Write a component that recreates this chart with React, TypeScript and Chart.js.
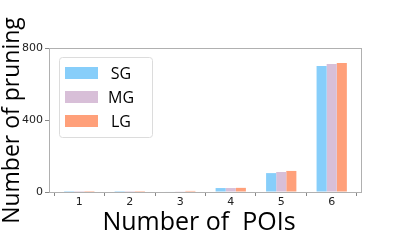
import React, { useEffect, useRef } from "react";
import { Chart, registerables } from "chart.js";

Chart.register(...registerables);

const categories = [1, 2, 3, 4, 5, 6];
const seriesNames = ["SG", "MG", "LG"];
const sgValues = [0.3, 0.3, 3, 22, 105, 700];
const mgValues = [0.3, 0.3, 4, 22, 111, 711];
const lgValues = [0.3, 0.3, 6, 23, 117, 717];
const yTicks = [0, 400, 800];
const colors = ["#87CEFA", "#D8BFD8", "#FFA07A"];
const xTitle = "Number of  POIs";
const yTitle = "Number of pruning";

const FONT = "'Open Sans', 'Noto Sans', sans-serif";
const TICKFONT = "'DejaVu Sans', sans-serif";

const framePlugin = {
  id: "frame",
  afterDraw(chart: any) {
    const { ctx, chartArea } = chart;
    const { left, right, top, bottom } = chartArea;
    ctx.save();
    ctx.strokeStyle = "#b0b0b0";
    ctx.lineWidth = 1;
    ctx.strokeRect(Math.round(left) + 0.5, Math.round(top) + 0.5, Math.round(right - left), Math.round(bottom - top));

    // legend
    const lx = 59, ly = 57, lw = 93, lh = 80;
    ctx.fillStyle = "rgba(255,255,255,0.85)";
    ctx.strokeStyle = "#dcdcdc";
    ctx.beginPath();
    (ctx as any).roundRect(lx + 0.5, ly + 0.5, lw, lh, 3);
    ctx.fill();
    ctx.stroke();
    chart.data.datasets.forEach((ds: any, i: number) => {
      const cy = 73 + i * 24;
      ctx.fillStyle = ds.backgroundColor;
      ctx.fillRect(65, cy - 6, 33, 12);
      ctx.fillStyle = "#000";
      ctx.font = `16px ${FONT}`;
      ctx.textAlign = "center";
      ctx.textBaseline = "middle";
      ctx.fillText(ds.label, 121, cy + 1);
    });

    // axis titles
    ctx.fillStyle = "#000";
    ctx.textAlign = "center";
    ctx.textBaseline = "alphabetic";
    ctx.font = `25px ${FONT}`;
    ctx.fillText(xTitle, 199, 230);
    ctx.save();
    ctx.font = `23px ${FONT}`;
    ctx.translate(19, 120.5);
    ctx.rotate(-Math.PI / 2);
    ctx.fillText(yTitle, 0, 0);
    ctx.restore();
    ctx.restore();
  },
};

export default function App() {
  const ref = useRef<HTMLCanvasElement>(null);
  useEffect(() => {
    if (!ref.current) return;
    const mk = (label: string, data: number[], color: string) => ({
      label,
      data: data.map((y, i) => ({ x: categories[i], y })),
      backgroundColor: color,
      borderWidth: 0,
      barPercentage: 1,
      categoryPercentage: 0.6,
    });
    const chart = new Chart(ref.current, {
      type: "bar",
      data: {
        datasets: [
          mk(seriesNames[0], sgValues, colors[0]),
          mk(seriesNames[1], mgValues, colors[1]),
          mk(seriesNames[2], lgValues, colors[2]),
        ],
      },
      options: {
        animation: false,
        responsive: false,
        layout: { padding: { top: 48, right: 39, left: 0, bottom: 0 } },
        plugins: { legend: { display: false }, tooltip: { enabled: false } },
        scales: {
          x: {
            type: "linear",
            min: 0.4,
            max: 6.58,
            offset: false,
            afterBuildTicks: (s: any) => {
              s.ticks = categories.map((v) => ({ value: v }));
            },
            afterFit: (s: any) => {
              s.height = 48;
            },
            ticks: { color: "#222", font: { size: 11, family: TICKFONT }, padding: 0, autoSkip: false },
            grid: { display: true, drawOnChartArea: false, tickLength: 4, color: "#888" },
            border: { display: false },
          },
          y: {
            min: 0,
            max: 800,
            afterBuildTicks: (s: any) => {
              s.ticks = yTicks.map((v) => ({ value: v }));
            },
            afterFit: (s: any) => {
              s.width = 49;
            },
            ticks: { color: "#222", font: { size: 11, family: TICKFONT }, padding: 2 },
            grid: { display: true, drawOnChartArea: false, tickLength: 4, color: "#888" },
            border: { display: false },
          },
        },
      },
      plugins: [framePlugin],
    } as any);
    return () => chart.destroy();
  }, []);
  return (
    <div style={{ position: "absolute", left: 0, top: 0, width: 400, height: 240, background: "#fff" }}>
      <canvas ref={ref} width={400} height={240} style={{ width: 400, height: 240 }} />
    </div>
  );
}
